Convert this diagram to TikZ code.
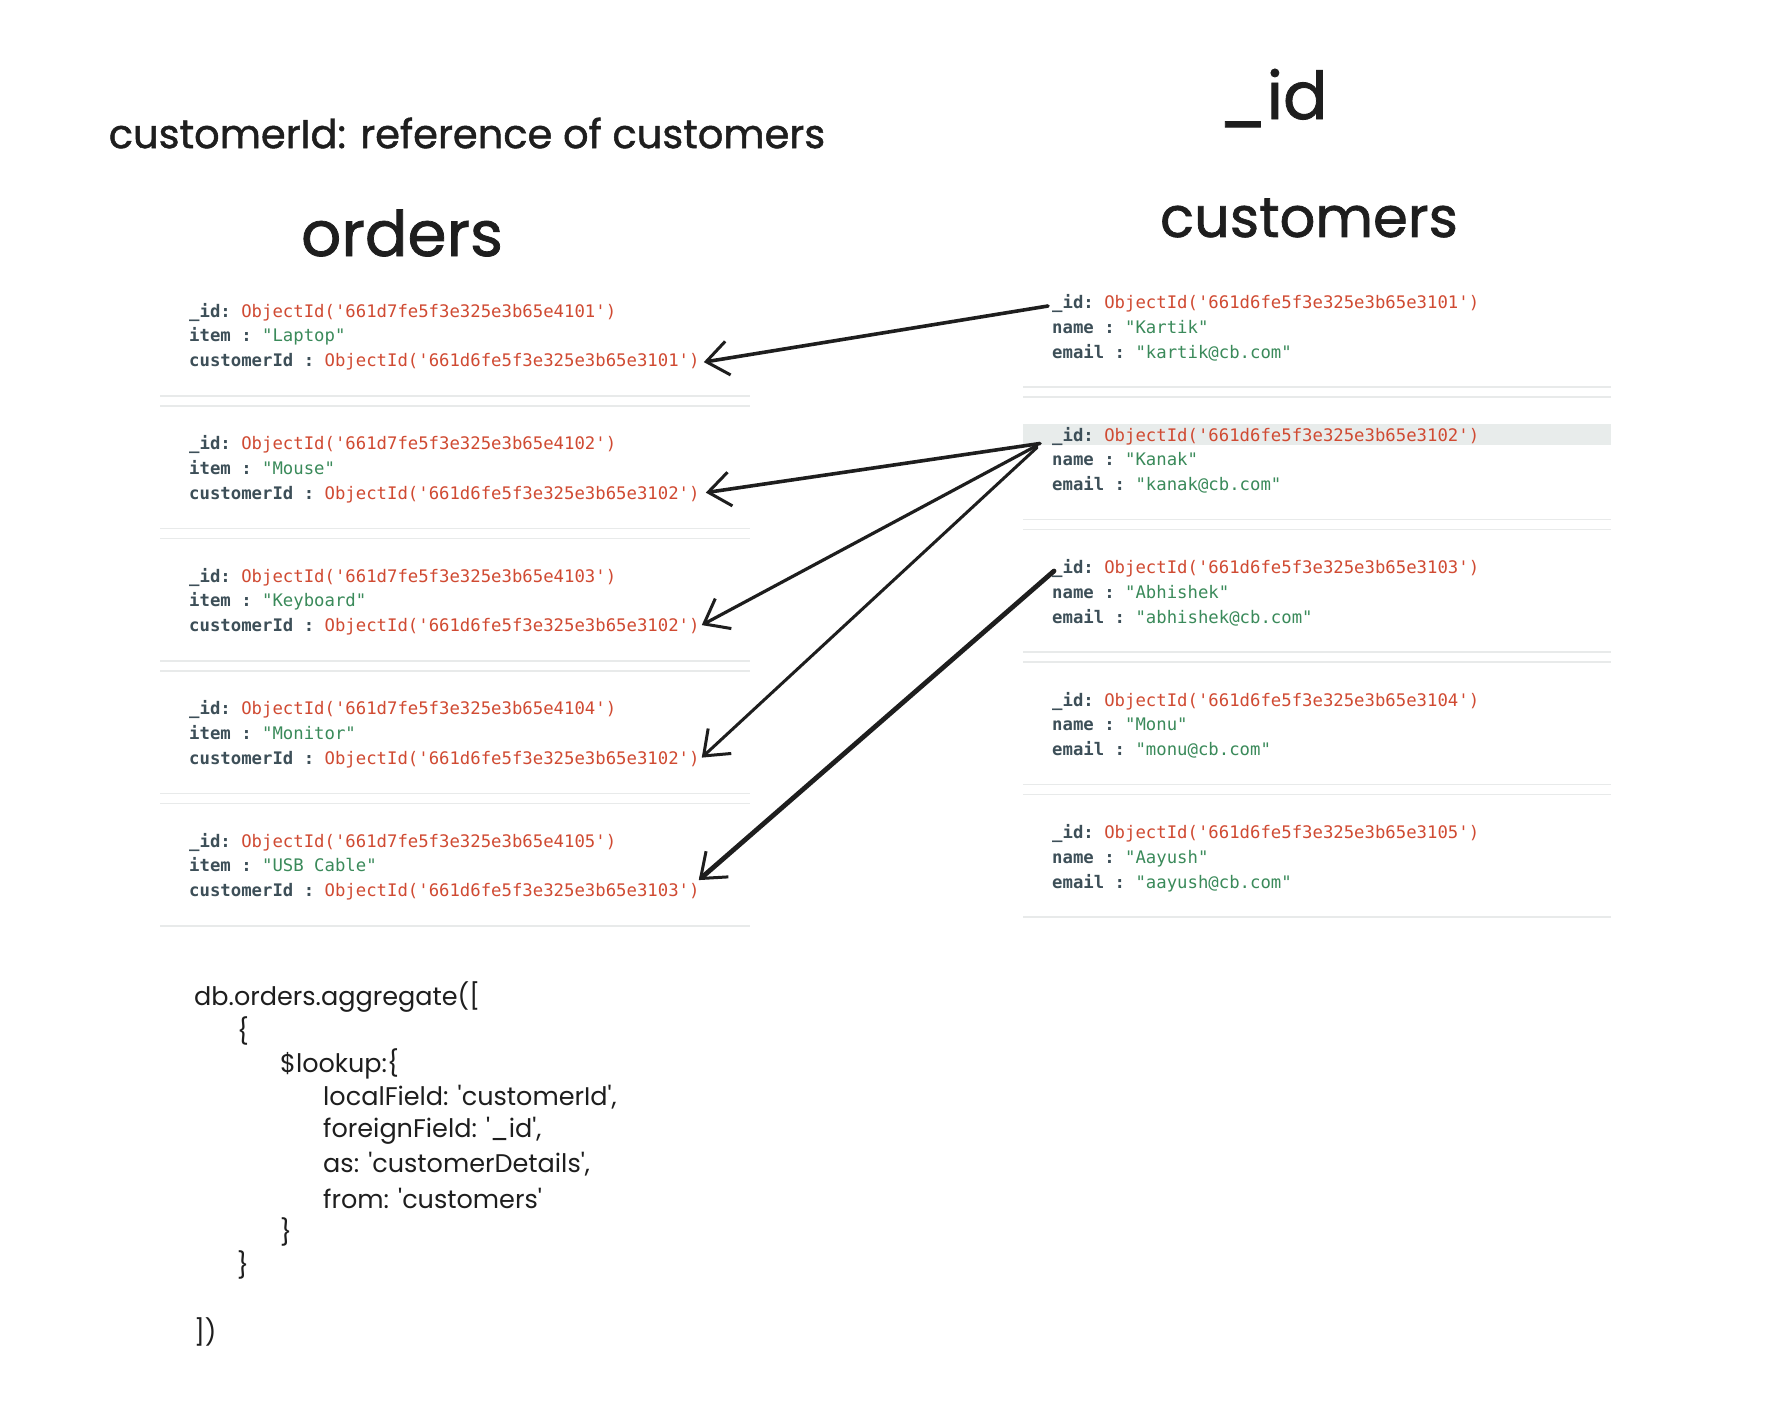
\documentclass[tikz,border=0pt]{standalone}
\usepackage{fontspec}
\setmonofont{DejaVu Sans Mono}
\newfontfamily\hand{Poppins}
\newfontfamily\handb[FakeBold=1.2]{Poppins}
\usetikzlibrary{arrows.meta}
\definecolor{keyc}{HTML}{3D4F58}
\definecolor{redc}{HTML}{D04A32}
\definecolor{greenc}{HTML}{3A8A5A}
\definecolor{sepc}{HTML}{E8EAEA}
\definecolor{hlc}{HTML}{E8ECEB}
\definecolor{inkc}{HTML}{1E1E1E}
\tikzset{
  rec/.style={anchor=west,inner sep=2pt,font=\ttfamily\fontsize{17.3}{20}\selectfont,text height=12pt,text depth=3pt},
  sep/.style={draw=sepc,line width=1.6pt},
  title/.style={inner sep=0pt,text=inkc},
  codeline/.style={anchor=west,inner sep=0pt,text=inkc,font=\hand\fontsize{25.5}{30}\selectfont},
  link/.style={draw=inkc,line width=3.6pt,line cap=round,-{Straight Barb[length=22pt,width=34pt,line width=3pt]}},
}
\newcommand{\kv}[1]{\textcolor{keyc}{\bfseries #1}}
\newcommand{\rv}[1]{\textcolor{redc}{#1}}
\newcommand{\gv}[1]{\textcolor{greenc}{#1}}
\begin{document}
\begin{tikzpicture}[x=1pt,y=-1pt]
\useasboundingbox (0,0) rectangle (1768,1402);
\fill[white] (0,0) rectangle (1768,1402);

% titles
\node[title,font=\handb\fontsize{40}{46}\selectfont] (t1) at (467,133) {customerId: reference of customers};
\node[title,font=\handb\fontsize{63}{70}\selectfont] (t2) at (402,233) {orders};
\node[title,font=\handb\fontsize{66}{74}\selectfont] (t3) at (1273,98) {\_id};
\node[title,font=\handb\fontsize{56}{64}\selectfont] (t4) at (1309,218) {customers};

% highlight row
\fill[hlc] (1023,424) rectangle (1611,445);

% orders
\foreach \i/\it/\c in {1/Laptop/3101,2/Mouse/3102,3/Keyboard/3102,4/Monitor/3102,5/USB Cable/3103}{
  \pgfmathsetmacro{\yy}{312.5+132.5*(\i-1)}
  \node[rec] (o\i id) at (187,\yy) {\kv{\_id:} \rv{ObjectId('661d7fe5f3e325e3b65e410\i')}};
  \node[rec] (o\i item) at (187,\yy+24.8) {\kv{item} \kv{:} \gv{"\it"}};
  \node[rec] (o\i cid) at (187,\yy+49.6) {\kv{customerId} \kv{:} \rv{ObjectId('661d6fe5f3e325e3b65e\c')}};
  \draw[sep] (160,\yy+83.5) -- (750,\yy+83.5);
}
\foreach \i in {1,2,3,4}{
  \pgfmathsetmacro{\yy}{312.5+132.5*(\i-1)}
  \draw[sep] (160,\yy+93.5) -- (750,\yy+93.5);
}

% customers
\foreach \i/\nm/\em in {1/Kartik/kartik,2/Kanak/kanak,3/Abhishek/abhishek,4/Monu/monu,5/Aayush/aayush}{
  \pgfmathsetmacro{\yy}{304+132.5*(\i-1)}
  \node[rec] (c\i id) at (1050,\yy) {\kv{\_id:} \rv{ObjectId('661d6fe5f3e325e3b65e310\i')}};
  \node[rec] (c\i name) at (1050,\yy+24.8) {\kv{name} \kv{:} \gv{"\nm"}};
  \node[rec] (c\i mail) at (1050,\yy+49.6) {\kv{email} \kv{:} \gv{"\em @cb.com"}};
  \draw[sep] (1023,\yy+83) -- (1611,\yy+83);
}
\foreach \i in {1,2,3,4}{
  \pgfmathsetmacro{\yy}{304+132.5*(\i-1)}
  \draw[sep] (1023,\yy+93) -- (1611,\yy+93);
}

% links
\draw[link] ([xshift=-2pt,yshift=-2pt]c1id.west) -- ([xshift=2pt,yshift=0pt]o1cid.east);
\draw[link] ([xshift=-10pt,yshift=-7pt]c2id.west) -- ([xshift=4pt,yshift=2pt]o2cid.east);
\draw[link,line width=3.2pt] ([xshift=-13pt,yshift=-9pt]c2id.west) -- ([yshift=2pt]o3cid.east);
\draw[link,line width=3pt] ([xshift=-13pt,yshift=-11pt]c2id.west) -- ([yshift=2pt]o4cid.east);
\draw[link,line width=4.8pt] ([xshift=4pt,yshift=-2pt]c3id.west) -- ([xshift=-3pt,yshift=12pt]o5cid.east);

% code
\node[codeline] (l1) at (194,997) {db.orders.aggregate([};
\node[codeline] (l2) at (237,1030.5) {\{};
\node[codeline] (l3) at (280,1064) {\$lookup:\{};
\node[codeline] (l4) at (323,1097.5) {localField: 'customerId',};
\node[codeline] (l5) at (323,1131) {foreignField: '\_id',};
\node[codeline] (l6) at (323,1164.5) {as: 'customerDetails',};
\node[codeline] (l7) at (323,1198) {from: 'customers'};
\node[codeline] (l8) at (280,1231.5) {\}};
\node[codeline] (l9) at (237,1265) {\}};
\node[codeline] (l10) at (194,1332) {])};
\end{tikzpicture}
\end{document}
